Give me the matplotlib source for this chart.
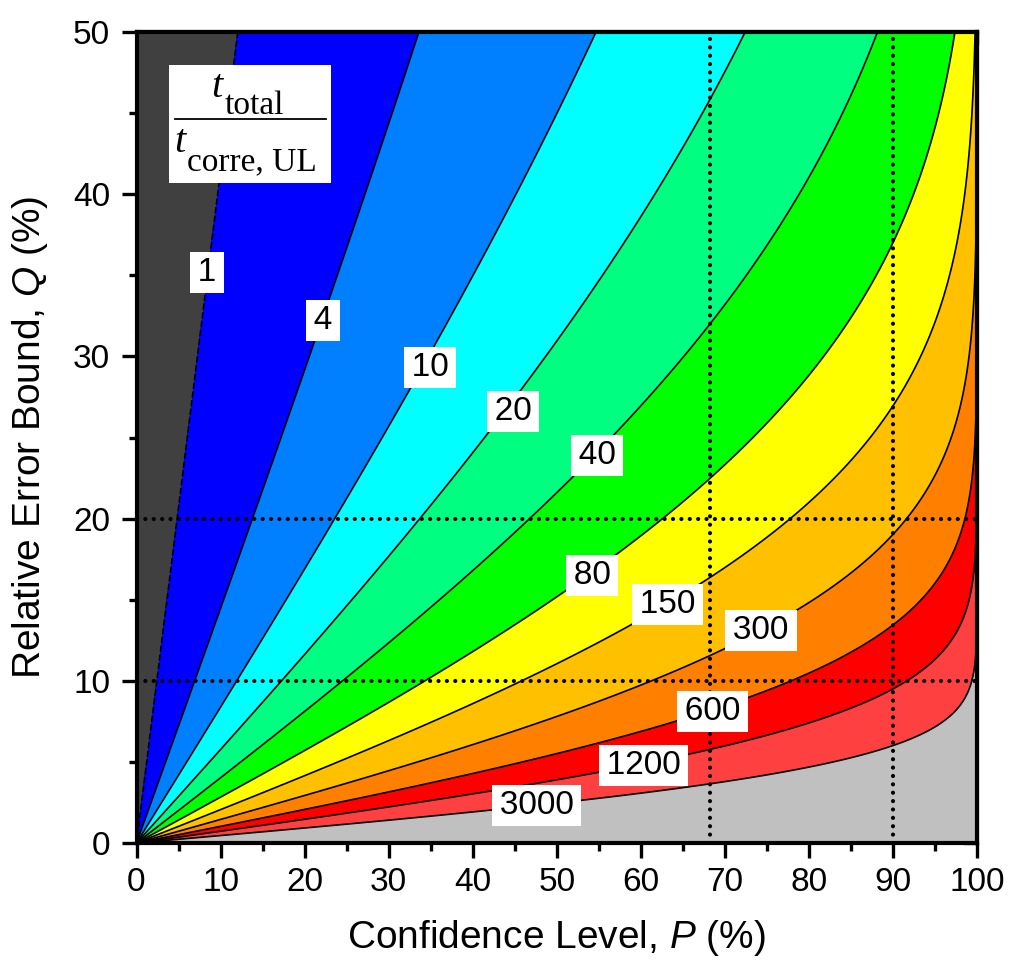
import numpy as np
import matplotlib
matplotlib.use('Agg')
import matplotlib.pyplot as plt
from matplotlib.patches import Rectangle
from matplotlib.lines import Line2D
from matplotlib.ticker import MultipleLocator
from statistics import NormalDist

# contour levels of t_total / t_corre,UL
LEVELS = [1, 4, 10, 20, 40, 80, 150, 300, 600, 1200, 3000]
REGION_COLORS = ['#404040', '#0000FF', '#0080FF', '#00FFFF', '#00FF80', '#00FF00',
                 '#FFFF00', '#FFC000', '#FF8000', '#FF0000', '#FF4040', '#C0C0C0']
# where each level label sits (P %, Q %)
LABEL_POS = [(8.4, 35.2), (22.2, 32.2), (34.9, 29.3), (44.8, 26.6), (54.8, 23.9),
             (54.2, 16.5), (63.2, 14.7), (74.3, 13.1), (68.5, 8.1), (60.3, 4.8),
             (47.6, 2.3)]
# reference lines
REF_P = [68.27, 90.0]
REF_Q = [10.0, 20.0]

plt.rcParams['font.family'] = ['Liberation Sans', 'DejaVu Sans']
plt.rcParams['mathtext.fontset'] = 'custom'
plt.rcParams['mathtext.rm'] = 'Liberation Sans'
plt.rcParams['mathtext.it'] = 'Liberation Sans:italic'

W, H = 1019, 972


def fx(x):
    return x / W


def fy(y):
    return 1 - y / H


def error_field(P, Q):
    # 4 (z/Q)^2 with z the two-sided normal quantile of P
    z = np.array([NormalDist().inv_cdf(0.5 + p / 200.0) for p in P])
    return 4 * (z[None, :] / (Q[:, None] / 100.0)) ** 2


def main():
    P = np.unique(np.concatenate([np.linspace(0.02, 99, 1500),
                                  100 - np.logspace(0, -4, 300)]))
    Q = np.linspace(0.02, 50, 1200)
    logF = np.log(error_field(P, Q))
    # ratio r relates to the field through r - 1 + exp(-r)
    lev = np.log([r - 1 + np.exp(-r) for r in LEVELS])

    fig = plt.figure(figsize=(W / 100, H / 100), dpi=100)
    ax = fig.add_axes([fx(136.5), fy(843), fx(977) - fx(136.5), fy(32) - fy(843)])

    ax.contourf(P, Q, logF, levels=np.concatenate([[-50], lev, [50]]),
                colors=REGION_COLORS)
    ax.contour(P, Q, logF, levels=lev, colors='k', linewidths=1.2)

    dot = dict(color='k', lw=3.0, linestyle=(0, (0.01, 2.0)),
               dash_capstyle='round', zorder=3)
    for p in REF_P:
        ax.axvline(p, **dot)
    for q in REF_Q:
        ax.axhline(q, **dot)

    for lvl, (p, q) in zip(LEVELS, LABEL_POS):
        ax.text(p, q, '\u200a%d\u200a' % lvl, fontsize=24, ha='center', va='center',
                zorder=4, bbox=dict(facecolor='white', edgecolor='none', pad=3.6))

    ax.set_xlim(0, 100)
    ax.set_ylim(0, 50)
    ax.xaxis.set_major_locator(MultipleLocator(10))
    ax.xaxis.set_minor_locator(MultipleLocator(5))
    ax.yaxis.set_major_locator(MultipleLocator(10))
    ax.yaxis.set_minor_locator(MultipleLocator(5))
    ax.tick_params(which='both', direction='out', width=2.4, labelsize=24)
    ax.tick_params(which='major', length=11, pad=6)
    ax.tick_params(which='minor', length=6)
    ax.tick_params(axis='y', pad=8)
    for s in ax.spines.values():
        s.set_linewidth(3.0)
        s.set_zorder(6)

    top = ax.secondary_xaxis('top')
    top.xaxis.set_major_locator(MultipleLocator(10))
    top.xaxis.set_minor_locator(MultipleLocator(5))
    top.tick_params(which='both', direction='in', width=2.4, labeltop=False)
    top.tick_params(which='major', length=9.5)
    top.tick_params(which='minor', length=5)
    right = ax.secondary_yaxis('right')
    right.yaxis.set_major_locator(MultipleLocator(10))
    right.yaxis.set_minor_locator(MultipleLocator(5))
    right.tick_params(which='both', direction='in', width=2.4, labelright=False)
    right.tick_params(which='major', length=9.5)
    right.tick_params(which='minor', length=5)
    for sec in (top, right):
        for s in sec.spines.values():
            s.set_linewidth(3.0)

    ax.set_xlabel('Confidence Level, $P$ (%)', fontsize=28)
    ax.set_ylabel('Relative Error Bound, $Q$ (%)', fontsize=28)
    ax.xaxis.set_label_coords(0.5, -0.092)
    ax.yaxis.set_label_coords(-0.103, 0.5)

    # t_total / t_corre,UL legend box
    fig.add_artist(Rectangle((fx(169), fy(183)), fx(331) - fx(169), fy(65) - fy(183),
                             transform=fig.transFigure, facecolor='white',
                             edgecolor='none', zorder=7))
    fig.add_artist(Line2D([fx(175), fx(326)], [fy(119), fy(119)],
                          transform=fig.transFigure, color='k', lw=1.3, zorder=8))
    serif = ['Liberation Serif', 'DejaVu Serif']
    fig.text(fx(211), fy(97), 't', family=serif, style='italic', fontsize=29,
             va='baseline', zorder=8)
    fig.text(fx(225), fy(114), 'total', family=serif, fontsize=24,
             va='baseline', zorder=8)
    fig.text(fx(174), fy(152), 't', family=serif, style='italic', fontsize=29,
             va='baseline', zorder=8)
    fig.text(fx(187), fy(170), 'corre, UL', family=serif, fontsize=24,
             va='baseline', zorder=8)

    fig.savefig('out.png', dpi=100)


if __name__ == '__main__':
    main()
